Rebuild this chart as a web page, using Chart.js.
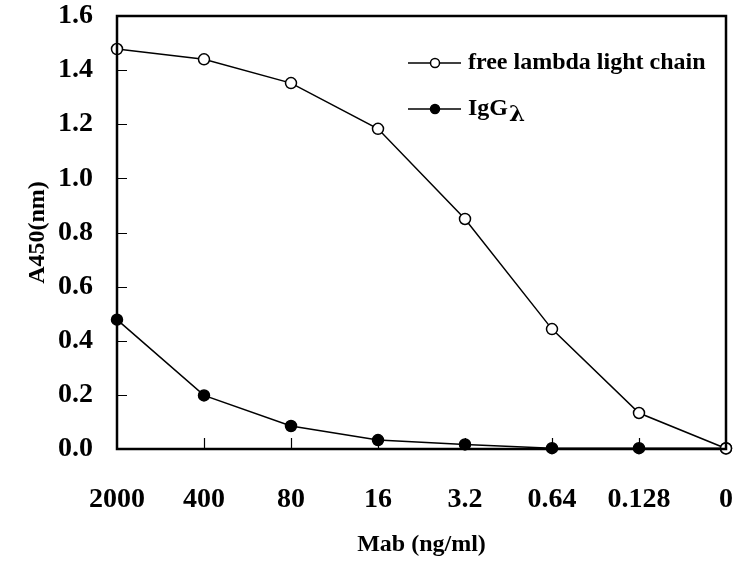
<!DOCTYPE html>
<html lang="en">
<head>
  <meta charset="UTF-8">
  <title>A450 vs Mab concentration</title>
  <style>
    html, body { margin: 0; padding: 0; background: #fff; }
    .chart-box { position: relative; width: 734px; height: 571px; }
  </style>
</head>
<body>
<div class="chart-box">
  <canvas id="mabChart"></canvas>
</div>

<script src="https://cdn.jsdelivr.net/npm/chart.js"></script>
<script>
  // data
  const mabLabels = ['2000', '400', '80', '16', '3.2', '0.64', '0.128', '0'];
  const freeLambda = [1.478, 1.44, 1.352, 1.183, 0.85, 0.443, 0.133, 0.002];
  const iggLambda = [0.478, 0.198, 0.085, 0.033, 0.017, 0.003, 0.003, 0.003];
  const yTicks = [0, 0.2, 0.4, 0.6, 0.8, 1.0, 1.2, 1.4, 1.6];

  const serif = '"Liberation Serif", "Times New Roman", serif';

  // frame round the plot + inward ticks
  const framePlugin = {
    id: 'frame',
    afterDatasetsDraw(chart) {
      const { ctx, chartArea: a, scales } = chart;
      ctx.save();
      ctx.strokeStyle = '#000';
      ctx.lineWidth = 1.2;
      ctx.beginPath();
      yTicks.forEach(v => {
        if (v === 0 || v === 1.6) return;
        const y = Math.round(scales.y.getPixelForValue(v)) + 0.5;
        ctx.moveTo(a.left, y);
        ctx.lineTo(a.left + 10, y);
      });
      for (let i = 1; i < mabLabels.length - 1; i++) {
        const x = Math.round(scales.x.getPixelForValue(i)) + 0.5;
        ctx.moveTo(x, a.bottom);
        ctx.lineTo(x, a.bottom - 11);
      }
      ctx.stroke();
      ctx.lineWidth = 2.5;
      ctx.strokeRect(a.left, a.top, a.right - a.left, a.bottom - a.top);
      ctx.restore();
    },
    afterDraw(chart) {
      // legend inside the plot
      const { ctx } = chart;
      const rows = [
        { y: 63, fill: '#fff', text: 'free lambda light chain' },
        { y: 109, fill: '#000', text: 'IgG' }
      ];
      ctx.save();
      rows.forEach(r => {
        ctx.strokeStyle = '#000';
        ctx.lineWidth = 1.5;
        ctx.beginPath();
        ctx.moveTo(408, r.y);
        ctx.lineTo(461, r.y);
        ctx.stroke();
        ctx.beginPath();
        ctx.arc(435, r.y, 4.5, 0, Math.PI * 2);
        ctx.fillStyle = r.fill;
        ctx.fill();
        ctx.stroke();
        ctx.fillStyle = '#000';
        ctx.font = 'bold 24px ' + serif;
        ctx.textBaseline = 'middle';
        ctx.textAlign = 'left';
        ctx.fillText(r.text, 468, r.y);
        if (r.text === 'IgG') {
          const w = ctx.measureText('IgG').width;
          ctx.font = 'bold 23px "DejaVu Serif", serif';
          ctx.fillText('λ', 468 + w + 1, r.y + 6);
        }
      });
      ctx.restore();
    }
  };

  const ds = (label, data, fill) => ({
    label: label,
    data: data,
    borderColor: '#000',
    borderWidth: 1.5,
    backgroundColor: fill,
    pointBackgroundColor: fill,
    pointBorderColor: '#000',
    pointBorderWidth: 1.5,
    pointRadius: 5.5,
    pointHoverRadius: 5.5,
    tension: 0,
    clip: false
  });

  new Chart(document.getElementById('mabChart'), {
    type: 'line',
    data: {
      labels: mabLabels,
      datasets: [
        ds('free lambda light chain', freeLambda, '#fff'),
        ds('IgGλ', iggLambda, '#000')
      ]
    },
    options: {
      responsive: true,
      maintainAspectRatio: false,
      animation: false,
      layout: { padding: { left: 23, top: 16, right: 8, bottom: 12 } },
      plugins: {
        legend: { display: false },
        tooltip: { enabled: false }
      },
      scales: {
        x: {
          offset: false,
          grid: { display: false },
          border: { display: false },
          ticks: {
            color: '#000',
            padding: 26,
            maxRotation: 0,
            autoSkip: false,
            font: { family: serif, size: 28, weight: 'bold' }
          },
          title: {
            display: true,
            text: 'Mab (ng/ml)',
            color: '#000',
            padding: { top: 0, bottom: 0 },
            font: { family: serif, size: 24, weight: 'bold' }
          },
          afterFit(scale) {
            scale.height = 110;
            scale.paddingLeft = 0;
            scale.paddingRight = 0;
          }
        },
        y: {
          min: 0,
          max: 1.6,
          grid: { display: false },
          border: { display: false },
          afterBuildTicks(scale) {
            scale.ticks = yTicks.map(v => ({ value: v }));
          },
          ticks: {
            color: '#000',
            padding: 16,
            font: { family: serif, size: 28, weight: 'bold' },
            callback: v => v.toFixed(1)
          },
          title: {
            display: true,
            text: 'A450(nm)',
            color: '#000',
            padding: { top: 0, bottom: 0 },
            font: { family: serif, size: 24, weight: 'bold' }
          },
          afterFit(scale) {
            scale.width = 94;
            scale.paddingTop = 0;
            scale.paddingBottom = 0;
          }
        }
      }
    },
    plugins: [framePlugin]
  });
</script>
</body>
</html>
